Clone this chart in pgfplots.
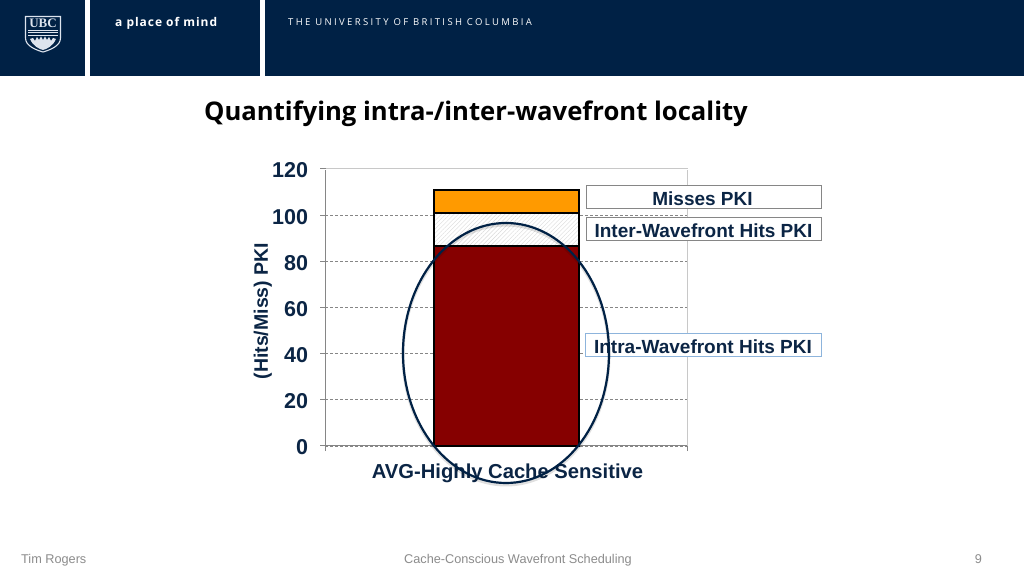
\documentclass[border=0pt]{standalone}
\usepackage{fontspec}
\setmainfont{Liberation Sans}
\newfontfamily\titlefont{Open Sans}
\newfontfamily\headfont[LetterSpace=25]{Open Sans}
\newfontfamily\tagfont[LetterSpace=8]{Open Sans}
\newfontfamily\crestfont{Liberation Serif}
\usepackage{pgfplots}
\pgfplotsset{compat=1.18}
\usetikzlibrary{patterns.meta}

\definecolor{ubcnavy}{HTML}{002145}
\definecolor{inknavy}{HTML}{0B2545}
\definecolor{barred}{HTML}{860000}
\definecolor{barorange}{HTML}{FF9A00}
\definecolor{footgray}{HTML}{8C8C8C}
\definecolor{gridgray}{HTML}{868686}
\definecolor{framegray}{HTML}{C8C8C8}
\definecolor{boxblue}{HTML}{8DB4DC}
\definecolor{crest}{HTML}{DDE4EE}

% pixel coordinates of the slide, y downwards
\tikzset{slide/.style={x=1pt,y=-1pt,shift={(0pt,575pt)}}}

\begin{document}
\begin{tikzpicture}
\useasboundingbox (0pt,0pt) rectangle (1024pt,575pt);
\fill[white] (0pt,0pt) rectangle (1024pt,575pt);

\begin{scope}[slide]
% header band
\fill[ubcnavy] (0,0) rectangle (85,76);
\fill[ubcnavy] (90,0) rectangle (260,76);
\fill[ubcnavy] (265,0) rectangle (1024,76);

% crest
\draw[crest,line width=1.1pt] (25.5,16.5) -- (60.5,16.5) -- (60.5,38)
  .. controls (60.5,46) and (50,50) .. (43,52) .. controls (36,50) and (25.5,46) .. (25.5,38) -- cycle;
\node[crest,font=\crestfont\bfseries\fontsize{13}{13}\selectfont] at (43,23) {UBC};
\draw[crest,line width=.7pt] (28,30)--(58,30) (28,32.5)--(58,32.5) (28,35)--(58,35);
\fill[crest] (30,39) -- (33,38) -- (35,41) -- (37,37) -- (39,40) -- (41,36.5) -- (43,40) -- (45,36.5) -- (47,40) -- (49,37) -- (51,41) -- (53,38) -- (56,39)
  .. controls (53,46) and (47,49) .. (43,50) .. controls (39,49) and (33,46) .. (30,39) -- cycle;

\node[white,anchor=base west,inner sep=0pt,font=\tagfont\bfseries\fontsize{12}{12}\selectfont] at (115,26.5) {a place of mind};
\node[white,anchor=base west,inner sep=0pt,font=\headfont\fontsize{9.5}{9.5}\selectfont] at (288,26) {THE UNIVERSITY OF BRITISH COLUMBIA};

% title
\node[black,anchor=base west,inner sep=0pt,font=\titlefont\bfseries\fontsize{25.65}{25.65}\selectfont] at (204,121) {Quantifying intra-/inter-wavefront locality};

% light right frame and solid base line under the plot
\draw[framegray,line width=1pt] (687,446) -- (687,169);
\draw[gridgray,line width=1pt] (320,446) -- (687,446);
\end{scope}

\begin{axis}[
    at={(325pt,129pt)},
    anchor=south west,
    scale only axis,
    width=362pt,
    height=277pt,
    xmin=0, xmax=1,
    ymin=0, ymax=120,
    ybar stacked,
    bar width=145pt,
    axis lines=left,
    axis line style={-,draw=gridgray,line width=1pt},
    xtick={0,1},
    xticklabels={},
    extra x ticks={0.5},
    extra x tick labels={AVG-Highly Cache Sensitive},
    extra x tick style={major tick length=0pt,tick style={draw=none},
        xticklabel style={yshift=-14pt,xshift=1.5pt}},
    ytick={0,20,...,120},
    tick align=outside,
    major tick length=5pt,
    tick style={draw=gridgray,line width=1pt},
    ymajorgrids,
    grid style={densely dashed,draw=gridgray,line width=.8pt},
    /pgf/number format/assume math mode=true,
    yticklabel style={font=\bfseries\fontsize{21.5}{21.5}\selectfont,text=inknavy,xshift=-8.5pt,yshift=-1.5pt},
    xticklabel style={font=\bfseries\fontsize{20.2}{20.2}\selectfont,text=inknavy},
    ylabel={(Hits/Miss) PKI},
    ylabel style={font=\bfseries\fontsize{19.5}{19.5}\selectfont,text=inknavy,
        at={(axis description cs:-0.172,0.487)},anchor=center},
    clip=false,
]
    \addplot[fill=barred,draw=black,line width=2pt] coordinates {(0.5,86.6)};
    \addplot[fill=white,draw=black,line width=2pt,
        postaction={pattern={Lines[angle=45,distance=3pt,line width=.4pt]},pattern color=black!15}]
        coordinates {(0.5,14.3)};
    \addplot[fill=barorange,draw=black,line width=2pt] coordinates {(0.5,10.0)};
\end{axis}

\begin{scope}[slide]
% top edge is a light solid line, not a grid line
\draw[white,line width=1.6pt] (320,169) -- (687.5,169);
\draw[framegray,line width=1pt] (325,169) -- (687.5,169);
\draw[gridgray,line width=1pt] (320,169) -- (325.5,169);

% series labels
\draw[fill=white,draw=gridgray,line width=1pt] (586.5,186) rectangle (821,209);
\node[inknavy,font=\bfseries\fontsize{19}{19}\selectfont] at (702.5,198.5) {Misses PKI};
\draw[fill=white,draw=gridgray,line width=1pt] (586.5,218) rectangle (821,241);
\node[inknavy,font=\bfseries\fontsize{19}{19}\selectfont] at (703.5,230.5) {Inter-Wavefront Hits PKI};
\draw[fill=white,draw=boxblue,line width=1pt] (585.5,334) rectangle (821,357);
\node[inknavy,font=\bfseries\fontsize{19}{19}\selectfont] at (703,346.5) {Intra-Wavefront Hits PKI};

% highlight ellipse
\draw[black,opacity=.12,line width=3pt] (506,355) ellipse [x radius=103, y radius=130];
\draw[ubcnavy,line width=2.2pt] (506,353) ellipse [x radius=103, y radius=130];

% footer
\node[footgray,anchor=base west,inner sep=0pt,font=\fontsize{12.7}{12.7}\selectfont] at (21,563) {Tim Rogers};
\node[footgray,anchor=base,inner sep=0pt,font=\fontsize{12.7}{12.7}\selectfont] at (518,563) {Cache-Conscious Wavefront Scheduling};
\node[footgray,anchor=base east,inner sep=0pt,font=\fontsize{12.7}{12.7}\selectfont] at (982,563) {9};
\end{scope}
\end{tikzpicture}
\end{document}
